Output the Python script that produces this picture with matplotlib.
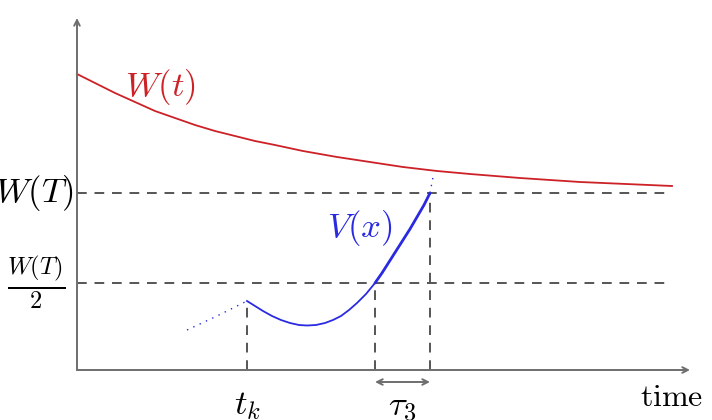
import matplotlib
matplotlib.use("Agg")
import matplotlib.pyplot as plt

plt.rcParams['mathtext.fontset'] = 'cm'
plt.rcParams['font.family'] = ['DejaVu Serif']

# Data (units: axis-origin based)
w_t = [0, 18, 38, 58, 78, 98, 118, 138, 158, 178, 198, 226, 260, 293, 326,
       360, 393, 443, 503, 595]
w_v = [296, 287, 277, 268, 259, 252, 245, 239, 234, 229, 225, 219, 213, 208,
       203, 199, 196, 192, 188, 184]

v_x_thin = [170, 178, 186, 195, 204, 213, 222, 230, 239, 248, 256, 264, 272,
            280, 289, 298]
v_y_thin = [69, 64, 59, 54, 50, 47, 45, 44.5, 45, 47, 50, 54, 60, 67, 76, 87]
v_x_thick = [298, 305, 312, 319, 326, 333, 340, 347, 353]
v_y_thick = [87, 97, 108, 119, 130, 141, 153, 165, 177]
dot_before_x = [110, 140, 170]
dot_before_y = [40, 54, 69]
dot_after_x = [353, 356]
dot_after_y = [177, 193]

W_T = 177
W_half = 87
t_k = 170
t_cross = 298
t_end = 353

fig = plt.figure(figsize=(7.12, 4.2), dpi=100)
ax = fig.add_axes([0, 0, 1, 1])
ax.set_xlim(-77, 635)
ax.set_ylim(-50, 370)
ax.axis('off')

axis_col = '#6e6e6e'
dash_col = '#555555'
red = '#cc2127'
blue = '#2a2ae0'

# axes arrows
ax.annotate('', xy=(613, 0), xytext=(0, 0),
            arrowprops=dict(arrowstyle='->', color=axis_col, lw=1.4, shrinkA=0, shrinkB=0))
ax.annotate('', xy=(0, 352), xytext=(0, 0),
            arrowprops=dict(arrowstyle='->', color=axis_col, lw=1.4, shrinkA=0, shrinkB=0))

dash = (0, (5, 4))
# horizontal dashed lines
ax.plot([0, 595], [W_T, W_T], color=dash_col, lw=1.4, ls=dash)
ax.plot([0, 595], [W_half, W_half], color=dash_col, lw=1.4, ls=dash)
# vertical dashed lines
ax.plot([t_k, t_k], [0, v_y_thin[0]], color=dash_col, lw=1.4, ls=dash)
ax.plot([t_cross, t_cross], [0, W_half], color=dash_col, lw=1.4, ls=dash)
ax.plot([t_end, t_end], [0, W_T], color=dash_col, lw=1.4, ls=dash)

# W(t)
ax.plot(w_t, w_v, color=red, lw=1.3, solid_joinstyle='round')
# V(x)
ax.plot(v_x_thin, v_y_thin, color=blue, lw=1.3, solid_joinstyle='round')
ax.plot(v_x_thick, v_y_thick, color=blue, lw=2.0, solid_capstyle='round',
        solid_joinstyle='round')
ax.plot(dot_before_x, dot_before_y, color=blue, lw=1.0, ls=(0, (1, 4)))
ax.plot(dot_after_x, dot_after_y, color=blue, lw=1.0, ls=(0, (1, 4)))

# double arrow tau_3
ax.annotate('', xy=(t_end, -12), xytext=(t_cross, -12),
            arrowprops=dict(arrowstyle='<->', color=axis_col, lw=1.4, shrinkA=0, shrinkB=0))

fs = 25
ax.text(83, 283, r'$W(t)$', color=red, fontsize=fs, ha='center', va='center')
ax.text(283, 142, r'$V(x)$', color=blue, fontsize=fs, ha='center', va='center')
ax.text(-3, W_T, r'$W(T)$', color='black', fontsize=fs, ha='right', va='center')
ax.text(-41, W_half, r'$\frac{W(T)}{2}$', color='black', fontsize=fs, ha='center', va='center')
ax.text(t_k, -35, r'$t_k$', color='black', fontsize=fs, ha='center', va='center')
ax.text((t_cross + t_end) / 2, -37, r'$\tau_3$', color='black', fontsize=fs, ha='center', va='center')
ax.text(595, -28, r'$\mathrm{time}$', color='black', fontsize=fs - 2, ha='center', va='center')

fig.savefig('out.png', dpi=100)
